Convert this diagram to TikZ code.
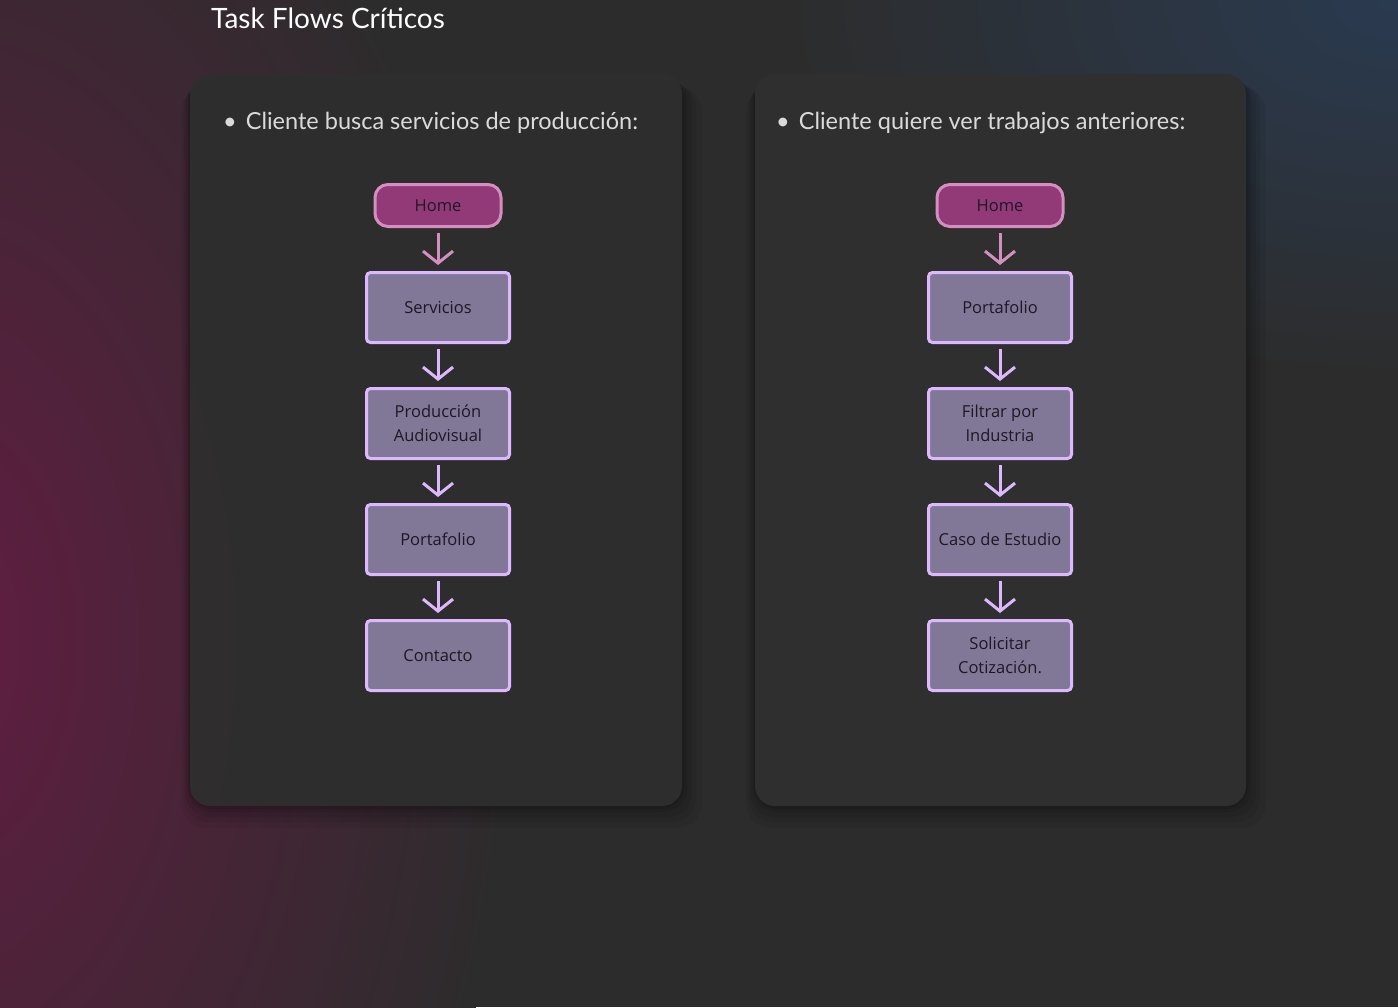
\documentclass[tikz,border=0pt]{standalone}
\usepackage{fontspec}
\setmainfont{Lato}
\newfontfamily\boxfont{Open Sans}
\usetikzlibrary{arrows.meta,positioning}
\definecolor{bgbase}{HTML}{2C2C2C}
\definecolor{bgred}{HTML}{621D42}
\definecolor{bgblue}{HTML}{2A3A50}
\definecolor{cardfill}{HTML}{2F2F2F}
\definecolor{homefill}{HTML}{923A78}
\definecolor{homedraw}{HTML}{D48EBF}
\definecolor{boxfill}{HTML}{807896}
\definecolor{boxdraw}{HTML}{DDB8FF}
\definecolor{boxtext}{HTML}{1E1826}
\definecolor{bullettext}{HTML}{DADADA}
\tikzset{
  card/.style={fill=cardfill, rounded corners=20pt, draw=none},
  homebox/.style={draw=homedraw, fill=homefill, line width=3pt, rounded corners=13pt,
    minimum width=126pt, minimum height=42pt, font=\boxfont\fontsize{16.5}{18}\selectfont, text=boxtext},
  stepbox/.style={draw=boxdraw, fill=boxfill, line width=3pt, rounded corners=4pt,
    minimum width=143pt, minimum height=70pt, align=center,
    font=\boxfont\fontsize{16.5}{24}\selectfont, text=boxtext},
  homearrow/.style={draw=homedraw, line width=3pt, -{Straight Barb[length=12pt,width=30pt,line width=3pt]}, shorten <=5pt, shorten >=6pt},
  steparrow/.style={draw=boxdraw, line width=3pt, -{Straight Barb[length=12pt,width=30pt,line width=3pt]}, shorten <=5pt, shorten >=6pt},
  bullet/.style={anchor=west, text=bullettext, font=\fontsize{23.5}{28}\selectfont},
}
\begin{document}
\begin{tikzpicture}[x=1pt,y=-1pt]
\useasboundingbox (0,0) rectangle (1398,1007);
% background
\fill[bgbase] (0,0) rectangle (1398,1007);
\begin{scope}
\clip (0,0) rectangle (1398,1007);
\shade[inner color=bgred, outer color=bgbase] (-60,640) ellipse[x radius=580, y radius=960];
\shade[inner color=bgblue, outer color=bgbase] (1398,0) ellipse[x radius=620, y radius=380];
\end{scope}
% card shadows
\foreach \i/\o in {22/0.05,16/0.06,11/0.07,6/0.08,3/0.1}{
  \fill[black, opacity=\o, rounded corners=24pt] (190-\i*0.4,74+\i*0.6) rectangle (682+\i*0.9,806+\i*1.0);
  \fill[black, opacity=\o, rounded corners=24pt] (755-\i*0.4,74+\i*0.6) rectangle (1246+\i*0.9,806+\i*1.0);
}
\fill[card, opacity=0.92] (190,74) rectangle (682,806);
\fill[card] (755,74) rectangle (1246,806);
% title
\node[anchor=base west, text=white, font=\fontsize{28}{32}\selectfont, inner sep=0pt] (title) at (211,28) {Task Flows Críticos};
% bullets
\node[bullet, inner sep=0pt] (b1) at (223,123) {•\hspace{9pt}Cliente busca servicios de producción:};
\node[bullet, inner sep=0pt] (b2) at (776,123) {•\hspace{9pt}Cliente quiere ver trabajos anteriores:};
% left flow
\node[homebox] (h1) at (438,205.5) {Home};
\node[stepbox] (s1) at (438,307.5) {Servicios};
\node[stepbox] (s2) at (438,423.5) {Producción\\Audiovisual};
\node[stepbox] (s3) at (438,539.5) {Portafolio};
\node[stepbox] (s4) at (438,655.5) {Contacto};
\draw[homearrow] (h1) -- (s1);
\draw[steparrow] (s1) -- (s2);
\draw[steparrow] (s2) -- (s3);
\draw[steparrow] (s3) -- (s4);
% right flow
\node[homebox] (h2) at (1000,205.5) {Home};
\node[stepbox] (r1) at (1000,307.5) {Portafolio};
\node[stepbox] (r2) at (1000,423.5) {Filtrar por\\Industria};
\node[stepbox] (r3) at (1000,539.5) {Caso de Estudio};
\node[stepbox] (r4) at (1000,655.5) {Solicitar\\Cotización.};
\draw[homearrow] (h2) -- (r1);
\draw[steparrow] (r1) -- (r2);
\draw[steparrow] (r2) -- (r3);
\draw[steparrow] (r3) -- (r4);
\end{tikzpicture}
\end{document}
